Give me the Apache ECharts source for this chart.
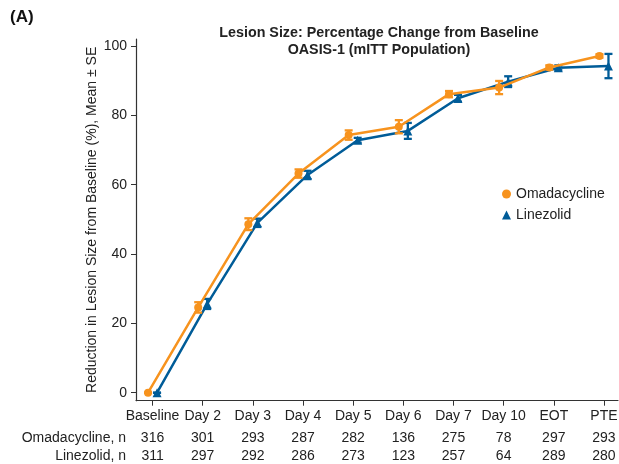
<!DOCTYPE html>
<html>
<head>
<meta charset="utf-8">
<script src="https://cdn.jsdelivr.net/npm/echarts@6/dist/echarts.min.js"></script>
<style>html,body{margin:0;padding:0;background:#fff}#c{width:619px;height:464px}</style>
</head>
<body>
<div id="c"></div>
<script>
var categories = ['Baseline', 'Day 2', 'Day 3', 'Day 4', 'Day 5', 'Day 6', 'Day 7', 'Day 10', 'EOT', 'PTE'];
var omaMean = [0, 24.6, 48.6, 63.2, 74.3, 76.7, 86.1, 88.0, 93.8, 97.1];
var omaSE   = [0, 1.5, 1.7, 1.2, 1.35, 1.9, 0.9, 1.9, 0.6, 0.5];
var linMean = [0, 25.6, 49.0, 62.8, 72.8, 75.5, 84.9, 89.7, 93.7, 94.2];
var linSE   = [0, 1.45, 1.2, 1.2, 0.7, 2.3, 1.0, 1.55, 0.7, 3.5];
var omaN = [316, 301, 293, 287, 282, 136, 275, 78, 297, 293];
var linN = [311, 297, 292, 286, 273, 123, 257, 64, 289, 280];
var yTicks = [0, 20, 40, 60, 80, 100];

var ORANGE = '#F7931E', BLUE = '#005C98';
var FONT = '"Liberation Sans", Arial, sans-serif';
var DODGE = 0.09;
var idx = categories.map(function (c, i) { return i; });

function pts(mean, off) { return mean.map(function (v, i) { return [i + off, v]; }); }
function bars(mean, se, off) { return mean.map(function (v, i) { return [i + off, v - se[i], v + se[i]]; }); }

function errItem(color) {
  return function (params, api) {
    var x = api.value(0), lo = api.value(1), hi = api.value(2);
    var a = api.coord([x, lo]), b = api.coord([x, hi]);
    var w = 4;
    var st = { stroke: color, lineWidth: 2.3 };
    return { type: 'group', children: [
      { type: 'line', shape: { x1: a[0], y1: a[1], x2: b[0], y2: b[1] }, style: st },
      { type: 'line', shape: { x1: a[0] - w, y1: a[1], x2: a[0] + w, y2: a[1] }, style: st },
      { type: 'line', shape: { x1: b[0] - w, y1: b[1], x2: b[0] + w, y2: b[1] }, style: st }
    ]};
  };
}

function nAxis(arr, off, name) {
  return {
    type: 'value', gridIndex: 0, position: 'bottom', offset: off,
    min: -0.33, max: 9.28,
    axisLine: { show: false, onZero: false }, axisTick: { show: false }, splitLine: { show: false },
    axisLabel: { customValues: idx, margin: 8, fontSize: 14, color: '#222', fontFamily: FONT,
      formatter: function (v) { return String(arr[Math.round(v)]); } },
    name: name, nameLocation: 'start', nameGap: 10,
    nameTextStyle: { fontSize: 14, color: '#222', fontFamily: FONT, verticalAlign: 'top', lineHeight: 14, padding: [8, 0, 0, 0] }
  };
}

var chart = echarts.init(document.getElementById('c'), null, { renderer: 'canvas' });
chart.setOption({
  animation: false,
  textStyle: { fontFamily: FONT },
  graphic: [
    { type: 'text', x: 10, y: 17, style: { text: '(A)', font: 'bold 17px ' + FONT, fill: '#111', align: 'left', verticalAlign: 'middle', textAlign: 'left', textVerticalAlign: 'middle' } },
    { type: 'text', x: 379, y: 33, style: { text: 'Lesion Size: Percentage Change from Baseline', font: 'bold 14.3px ' + FONT, fill: '#222', align: 'center', verticalAlign: 'middle', textAlign: 'center', textVerticalAlign: 'middle' } },
    { type: 'text', x: 379, y: 50, style: { text: 'OASIS-1 (mITT Population)', font: 'bold 14.3px ' + FONT, fill: '#222', align: 'center', verticalAlign: 'middle', textAlign: 'center', textVerticalAlign: 'middle' } }
  ],
  legend: {
    orient: 'vertical', left: 497, top: 181, itemWidth: 9, itemHeight: 9, itemGap: 5,
    textStyle: { fontSize: 14, color: '#222', fontFamily: FONT, lineHeight: 16, padding: [0, 0, 0, 0] },
    data: [{ name: 'Omadacycline', icon: 'circle' }, { name: 'Linezolid', icon: 'triangle' }]
  },
  grid: { left: 136, right: 1, top: 39, bottom: 63.3, containLabel: false, outerBoundsMode: 'none' },
  xAxis: [
    {
      type: 'value', min: -0.33, max: 9.28,
      axisLine: { onZero: false, lineStyle: { color: '#333', width: 1.2 } },
      axisTick: { customValues: idx, length: 5, lineStyle: { color: '#333' } },
      splitLine: { show: false },
      axisLabel: { customValues: idx, margin: 8, fontSize: 14, color: '#222', fontFamily: FONT,
        formatter: function (v) { return categories[Math.round(v)]; } }
    },
    nAxis(omaN, 22, 'Omadacycline, n'),
    nAxis(linN, 40, 'Linezolid, n')
  ],
  yAxis: {
    type: 'value', min: -2.3, max: 102,
    axisLine: { show: true, onZero: false, lineStyle: { color: '#333', width: 1.2 } },
    axisTick: { show: true, customValues: yTicks, length: 5, lineStyle: { color: '#333' } },
    splitLine: { show: false },
    axisLabel: { customValues: yTicks, margin: 9, fontSize: 14, color: '#222', fontFamily: FONT },
    name: 'Reduction in Lesion Size from Baseline (%), Mean \u00b1 SE',
    nameLocation: 'middle', nameGap: 37, nameMoveOverlap: false,
    nameTextStyle: { fontSize: 14, color: '#222', fontFamily: FONT }
  },
  series: [
    { name: 'Linezolid', type: 'line', data: pts(linMean, DODGE), symbol: 'triangle', symbolSize: 9,
      itemStyle: { color: BLUE }, lineStyle: { color: BLUE, width: 2.5 }, z: 2 },
    { type: 'custom', data: bars(linMean, linSE, DODGE), renderItem: errItem(BLUE), encode: { x: 0, y: [1, 2] }, z: 3, silent: true },
    { name: 'Omadacycline', type: 'line', data: pts(omaMean, -DODGE), symbol: 'circle', symbolSize: 8,
      itemStyle: { color: ORANGE }, lineStyle: { color: ORANGE, width: 2.5 }, z: 4 },
    { type: 'custom', data: bars(omaMean, omaSE, -DODGE), renderItem: errItem(ORANGE), encode: { x: 0, y: [1, 2] }, z: 5, silent: true }
  ]
});
</script>
</body>
</html>
